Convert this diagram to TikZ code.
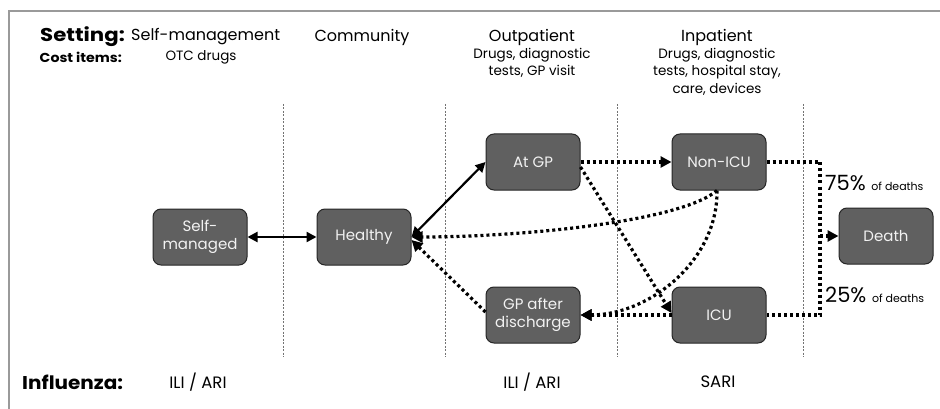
\documentclass[tikz,border=0pt]{standalone}
\usepackage{fontspec}
\usepackage{graphicx}
\setmainfont{Poppins}
\usetikzlibrary{arrows.meta}
\definecolor{boxfill}{HTML}{606060}
\definecolor{framegray}{HTML}{9A9A9A}
\tikzset{
  stepbox/.style={draw=black!85, line width=1pt, fill=boxfill, rounded corners=8pt,
    minimum width=94pt, minimum height=56pt, text=white!95!black, align=center,
    font=\fontsize{15}{18}\selectfont, inner sep=2pt},
  solidarr/.style={line width=2.2pt, {Triangle[length=10pt,width=10pt]}-{Triangle[length=10pt,width=10pt]}},
  dotline/.style={line width=3.2pt, dash pattern=on 3pt off 3pt},
  dotarr/.style={dotline, -{Triangle[length=11pt,width=11pt]}},
  sep/.style={draw=black!55, line width=0.6pt, dash pattern=on 2pt off 1.5pt},
  hdr/.style={font=\fontsize{16}{19}\selectfont, inner sep=0pt},
  sub/.style={font=\fontsize{13.5}{17.5}\selectfont, align=center, inner sep=0pt},
  bold/.style={font=\fontsize{18.5}{20}\selectfont\bfseries, inner sep=0pt},
  code/.style={font=\fontsize{16.5}{18}\selectfont, inner sep=0pt},
}
\begin{document}
\begin{tikzpicture}[x=1pt,y=-1pt]
\useasboundingbox (0,0) rectangle (940,409);
% frame
\draw[framegray, line width=1.4pt] (9,409) -- (9,11) -- (940,11);
% separators
\foreach \xx/\nm in {283/s1,445/s2,617/s3,803/s4}{
  \coordinate (\nm t) at (\xx,104);
  \coordinate (\nm b) at (\xx,357);
  \draw[sep] (\nm t) -- (\nm b);
}
% headers
\node[bold, anchor=east] (setting) at (125,37) {\scalebox{1.15}[1]{Setting:}};
\node[hdr, anchor=west] (hself) at (131,37) {Self-management};
\node[hdr] (hcomm) at (362,37) {Community};
\node[hdr] (hout) at (532,37) {Outpatient};
\node[hdr] (hin) at (717,37) {Inpatient};
\node[font=\fontsize{13}{14}\selectfont\bfseries, inner sep=0pt, anchor=east] (cost) at (122,57) {\scalebox{1.09}[1]{Cost items:}};
\node[sub] (cself) at (201,57) {OTC drugs};
\node[sub, anchor=north] (cout) at (532,48) {Drugs, diagnostic\\tests, GP visit};
\node[sub, anchor=north] (cin) at (717,48) {Drugs, diagnostic\\tests, hospital stay,\\care, devices};
% boxes
\node[stepbox] (self) at (200,237) {Self-\\managed};
\node[stepbox] (healthy) at (364,237) {Healthy};
\node[stepbox] (atgp) at (533,162) {At GP};
\node[stepbox] (gpad) at (533,315) {GP after\\discharge};
\node[stepbox] (nonicu) at (719,162) {Non-ICU};
\node[stepbox] (icu) at (719,315) {ICU};
\node[stepbox] (death) at (886,236) {Death};
% solid connectors
\draw[solidarr] (self) -- (healthy);
\draw[solidarr] (healthy.east) -- (atgp.west);
% dotted connectors
\draw[dotarr] (atgp.east) -- (nonicu.west);
\draw[dotarr] ([yshift=-5pt]atgp.east) -- ([yshift=2pt]icu.west);
\draw[dotarr] ([xshift=-2pt]nonicu.south) .. controls (680,222) and (520,237) .. (healthy.east);
\draw[dotarr] ([xshift=-2pt]nonicu.south) .. controls (718,260) and (650,315) .. (gpad.east);
\draw[dotarr] (icu.west) -- (gpad.east);
\draw[dotarr] ([yshift=3pt]gpad.west) -- ([yshift=-3pt]healthy.east);
\coordinate (bt) at (820,162);
\coordinate (bb) at (820,315);
\coordinate (bm) at (820,236);
\draw[dotline] (nonicu.east) -- (bt) -- (bb) -- (icu.east);
\draw[dotarr] (bm) -- (death.west);
\node[anchor=base west, inner sep=0pt] (p75) at (825,190) {\fontsize{21}{21}\selectfont 75\%\ \fontsize{11}{11}\selectfont of deaths};
\node[anchor=base west, inner sep=0pt] (p25) at (825,302) {\fontsize{21}{21}\selectfont 25\%\ \fontsize{11}{11}\selectfont of deaths};
% bottom row
\node[bold, anchor=west] (infl) at (22,382) {\scalebox{1.08}[1]{Influenza:}};
\node[code] (i1) at (198,382) {ILI / ARI};
\node[code] (i2) at (532,382) {ILI / ARI};
\node[code] (i3) at (718,382) {SARI};
\end{tikzpicture}
\end{document}
